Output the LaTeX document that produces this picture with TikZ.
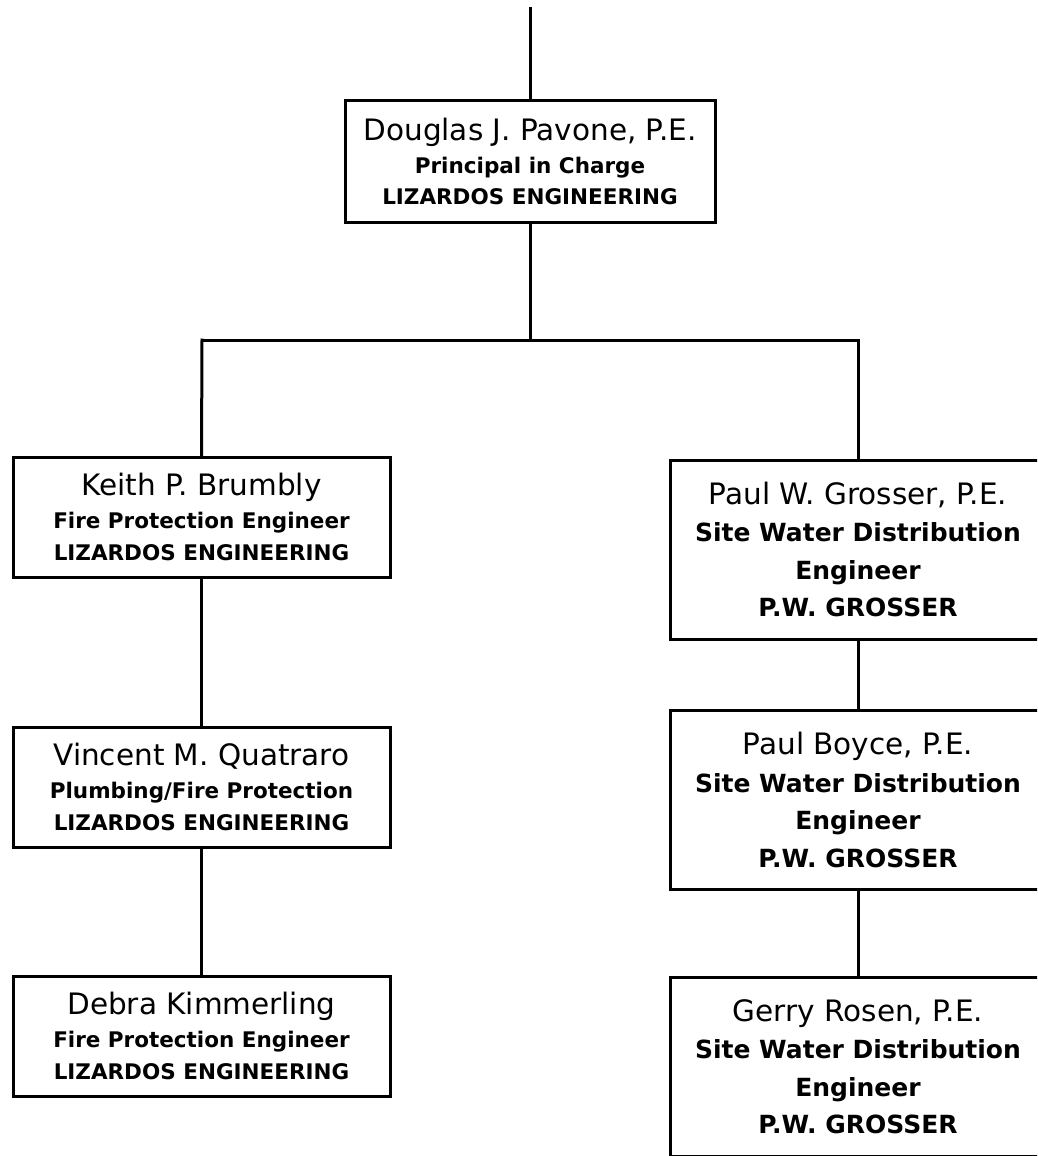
\documentclass[tikz,border=0pt]{standalone}
\usepackage{fontspec}
\setmainfont{DejaVu Sans}
% person's name, set larger and in regular weight
\newcommand\pname[1]{{\mdseries\fontsize{29.5}{32}\selectfont #1}}
\begin{document}
\begin{tikzpicture}[x=1pt,y=-1pt,
  wire/.style={line width=3pt, line cap=rect},
  orgbox/.style={draw, line width=3pt, fill=white, align=center, inner sep=0pt},
  firmbox/.style={orgbox, minimum width=377pt, minimum height=120pt,
    font=\bfseries\fontsize{21.5}{32}\selectfont},
  headbox/.style={orgbox, minimum width=370pt, minimum height=122pt,
    font=\bfseries\fontsize{21.5}{31}\selectfont},
  waterbox/.style={orgbox, minimum width=376pt, minimum height=179pt,
    font=\bfseries\fontsize{25}{37.5}\selectfont}]
  \useasboundingbox (0,0) rectangle (1037,1156);
  \fill[white] (0,0) rectangle (1037,1156);
  \clip (0,0) rectangle (1037,1156);

  % principal
  \node[headbox] (top) at (530,161)
    {\pname{Douglas J. Pavone, P.E.}\\[2pt] Principal in Charge\\ LIZARDOS ENGINEERING};

  % fire protection branch
  \node[firmbox] (keith) at (201.5,517)
    {\pname{Keith P. Brumbly}\\[1pt] Fire Protection Engineer\\ LIZARDOS ENGINEERING};
  \node[firmbox] (vincent) at (201.5,787)
    {\pname{Vincent M. Quatraro}\\[1pt] Plumbing/Fire Protection\\ LIZARDOS ENGINEERING};
  \node[firmbox] (debra) at (201.5,1036)
    {\pname{Debra Kimmerling}\\[1pt] Fire Protection Engineer\\ LIZARDOS ENGINEERING};

  % site water branch
  \node[waterbox] (paulw) at (858,549.5)
    {\pname{Paul W. Grosser, P.E.}\\ Site Water Distribution\\ Engineer\\ P.W. GROSSER};
  \node[waterbox] (boyce) at (858,800)
    {\pname{Paul Boyce, P.E.}\\ Site Water Distribution\\ Engineer\\ P.W. GROSSER};
  \node[waterbox] (gerry) at (858,1066.5)
    {\pname{Gerry Rosen, P.E.}\\ Site Water Distribution\\ Engineer\\ P.W. GROSSER};

  % connectors
  \coordinate (feed) at (530,9);
  \coordinate (jl) at (202,340);
  \coordinate (jc) at (530,340);
  \coordinate (jr) at (858,340);
  \draw[wire] (feed) -- (top.north);
  \draw[wire] (top.south) -- (jc);
  \draw[wire] (jl) -- (jr);
  \draw[wire] (jl) -- (keith.north);
  \draw[wire] (keith.south) -- (vincent.north);
  \draw[wire] (vincent.south) -- (debra.north);
  \draw[wire] (jr) -- (paulw.north);
  \draw[wire] (paulw.south) -- (boyce.north);
  \draw[wire] (boyce.south) -- (gerry.north);
\end{tikzpicture}
\end{document}
